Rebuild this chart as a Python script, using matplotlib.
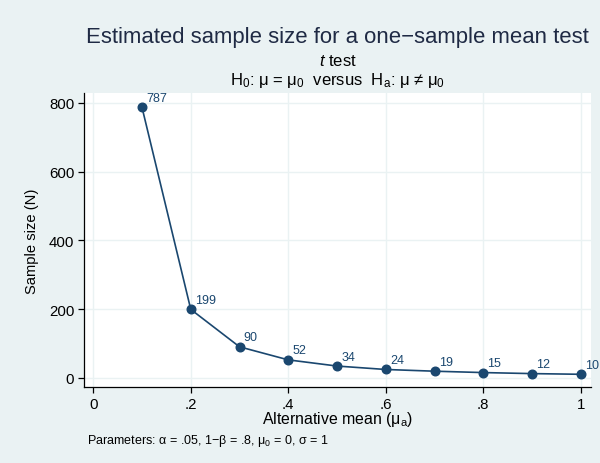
import matplotlib
matplotlib.use("Agg")
import matplotlib.pyplot as plt

plt.rcParams['font.family'] = ['Liberation Sans', 'DejaVu Sans']
plt.rcParams['mathtext.fontset'] = 'custom'
plt.rcParams['mathtext.rm'] = 'Liberation Sans'
plt.rcParams['mathtext.it'] = 'Liberation Sans:italic'
plt.rcParams['mathtext.bf'] = 'Liberation Sans:bold'

alt_mean = [0.1, 0.2, 0.3, 0.4, 0.5, 0.6, 0.7, 0.8, 0.9, 1.0]
sample_n = [787, 199, 90, 52, 34, 24, 19, 15, 12, 10]
x_ticks = [0, 0.2, 0.4, 0.6, 0.8, 1.0]
x_tick_labels = ["0", ".2", ".4", ".6", ".8", "1"]
y_ticks = [0, 200, 400, 600, 800]

BG = "#EAF2F3"
NAVY = "#1A476F"
TXT = "#1F2A44"

W, H = 600, 464
fig = plt.figure(figsize=(6, 4.64), dpi=100, facecolor=BG)
ax = fig.add_axes([84 / W, 1 - 388 / H, 507 / W, 294 / H])
ax.set_facecolor("white")

ax.plot(alt_mean, sample_n, color=NAVY, lw=1.2, marker='o', ms=6.2,
        markerfacecolor=NAVY, markeredgecolor=NAVY, zorder=3, clip_on=False)
for xv, yv in zip(alt_mean, sample_n):
    ax.annotate(str(yv), (xv, yv), xytext=(3, 2.5), textcoords='offset points',
                ha='left', va='bottom', fontsize=9, color=NAVY,
                annotation_clip=False)

ax.set_xlim(-0.019, 1.021)
ax.set_ylim(-27, 829)
ax.set_xticks(x_ticks)
ax.set_xticklabels(x_tick_labels)
ax.set_yticks(y_ticks)
ax.grid(True, color=BG, lw=1.0)
ax.set_axisbelow(True)

for s in ['top', 'right']:
    ax.spines[s].set_visible(False)
for s in ['left', 'bottom']:
    ax.spines[s].set_color('black')
    ax.spines[s].set_linewidth(0.9)

ax.tick_params(axis='both', direction='out', length=4, width=0.9,
               labelsize=10.8, colors='black', pad=3)

ax.set_xlabel(r"Alternative mean (μ$_\mathrm{a}$)", fontsize=11.4, va='center')
ax.xaxis.set_label_coords(0.5, (388 - 420) / 294)
ax.set_ylabel("Sample size (N)", fontsize=10.6, va='center')
ax.yaxis.set_label_coords((32 - 84) / 507, 0.5)

cx = (84 + 507 / 2) / W
fig.text(cx, 1 - 38 / H, "Estimated sample size for a one\u2212sample mean test",
         ha='center', va='center', fontsize=15.9, color=TXT)
fig.text(cx, 1 - 62 / H, r"$t$ test", ha='center', va='center', fontsize=12, color='black')
fig.text(cx, 1 - 80 / H,
         r"H$_\mathrm{0}$: μ = μ$_\mathrm{0}$  versus  H$_\mathrm{a}$: μ ≠ μ$_\mathrm{0}$",
         ha='center', va='center', fontsize=12, color='black')
fig.text(87 / W, 1 - 441 / H,
         r"Parameters: α = .05, 1−β = .8, μ$_\mathrm{0}$ = 0, σ = 1",
         ha='left', va='center', fontsize=9, color='black')

fig.savefig("out.png", dpi=100, facecolor=BG)
